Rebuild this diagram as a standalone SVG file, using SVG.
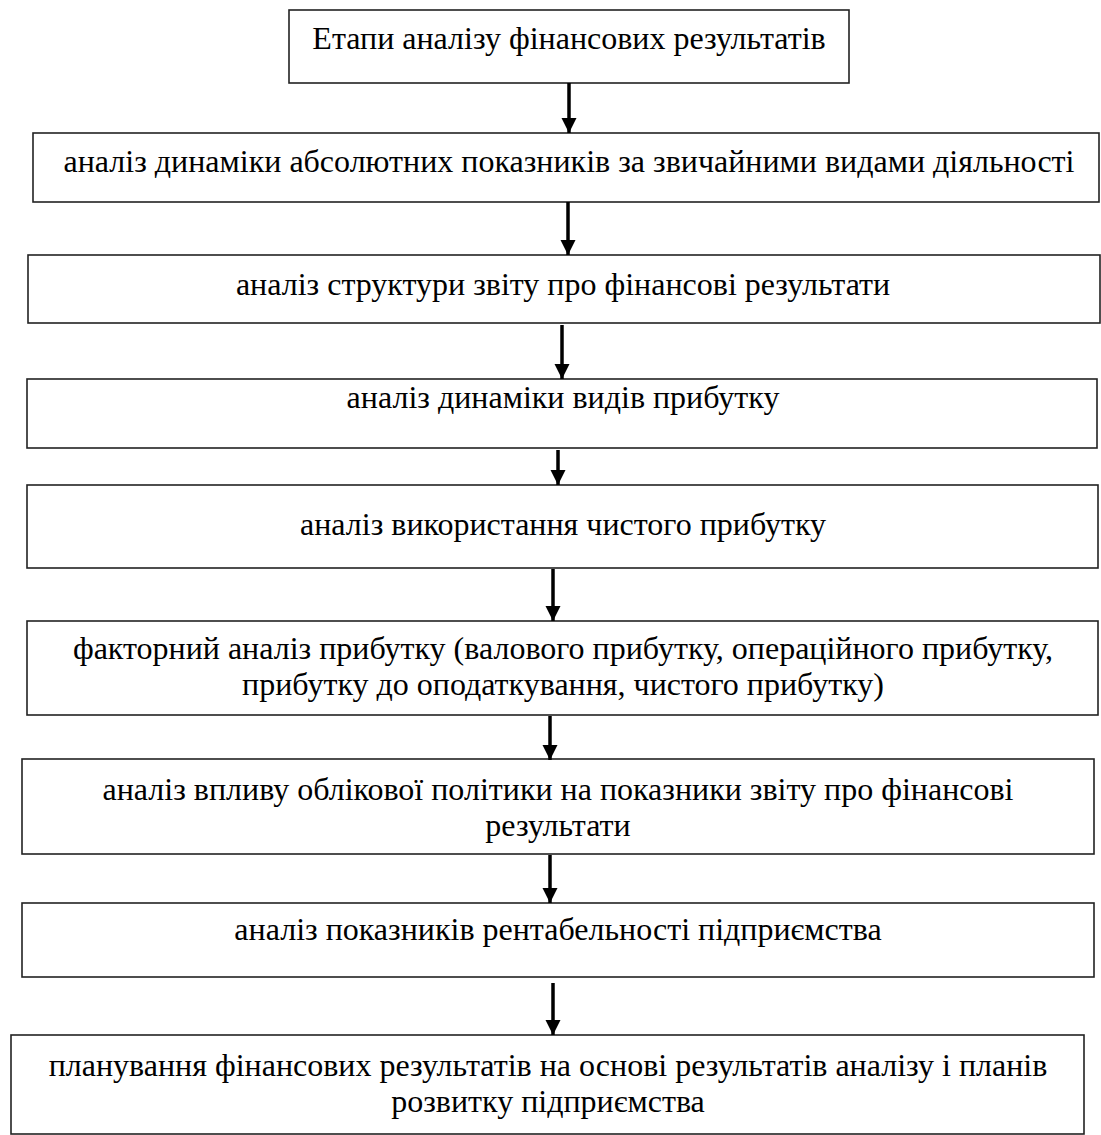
<svg xmlns="http://www.w3.org/2000/svg" width="1101" height="1135" viewBox="0 0 1101 1135">
<style>
.box{fill:#fff;stroke:#222;stroke-width:1.6}
.t{font-family:"Liberation Serif","Times New Roman",serif;font-size:32px;fill:#000;text-anchor:middle}
.c{stroke:#000;stroke-width:3.5;fill:none}
</style>
<defs>
<marker id="ah" markerUnits="userSpaceOnUse" markerWidth="16" markerHeight="16" refX="15" refY="7.5" orient="auto">
<path d="M0,0 L15,7.5 L0,15 z" fill="#000"/>
</marker>
</defs>
<rect width="1101" height="1135" fill="#fff"/>
<g id="n0"><rect class="box" x="289" y="10" width="560" height="73"/><text class="t" x="569" y="49">Етапи аналізу фінансових результатів</text></g>
<g id="n1"><rect class="box" x="33" y="133" width="1066" height="69"/><text class="t" x="569" y="172">аналіз динаміки абсолютних показників за звичайними видами діяльності</text></g>
<g id="n2"><rect class="box" x="28" y="255" width="1072" height="68"/><text class="t" x="563" y="295">аналіз структури звіту про фінансові результати</text></g>
<g id="n3"><rect class="box" x="27" y="379" width="1070" height="69"/><text class="t" x="563" y="408">аналіз динаміки видів прибутку</text></g>
<g id="n4"><rect class="box" x="27" y="485" width="1071" height="83"/><text class="t" x="563" y="535">аналіз використання чистого прибутку</text></g>
<g id="n5"><rect class="box" x="27" y="621" width="1071" height="94"/><text class="t" x="563" y="659">факторний аналіз прибутку (валового прибутку, операційного прибутку,</text><text class="t" x="563" y="695">прибутку до оподаткування, чистого прибутку)</text></g>
<g id="n6"><rect class="box" x="22" y="759" width="1072" height="95"/><text class="t" x="558" y="800">аналіз впливу облікової політики на показники звіту про фінансові</text><text class="t" x="558" y="836">результати</text></g>
<g id="n7"><rect class="box" x="22" y="903" width="1072" height="74"/><text class="t" x="558" y="940">аналіз показників рентабельності підприємства</text></g>
<g id="n8"><rect class="box" x="11" y="1035" width="1073" height="99"/><text class="t" x="548" y="1076">планування фінансових результатів на основі результатів аналізу і планів</text><text class="t" x="548" y="1112">розвитку підприємства</text></g>
<g id="connectors">
<line class="c" x1="569" y1="83" x2="569" y2="133" marker-end="url(#ah)"/>
<line class="c" x1="568" y1="202" x2="568" y2="255" marker-end="url(#ah)"/>
<line class="c" x1="562" y1="325" x2="562" y2="379" marker-end="url(#ah)"/>
<line class="c" x1="558" y1="450" x2="558" y2="485" marker-end="url(#ah)"/>
<line class="c" x1="553" y1="569" x2="553" y2="621" marker-end="url(#ah)"/>
<line class="c" x1="550" y1="716" x2="550" y2="760" marker-end="url(#ah)"/>
<line class="c" x1="550" y1="855" x2="550" y2="903" marker-end="url(#ah)"/>
<line class="c" x1="553" y1="983" x2="553" y2="1035" marker-end="url(#ah)"/>
</g>
</svg>
